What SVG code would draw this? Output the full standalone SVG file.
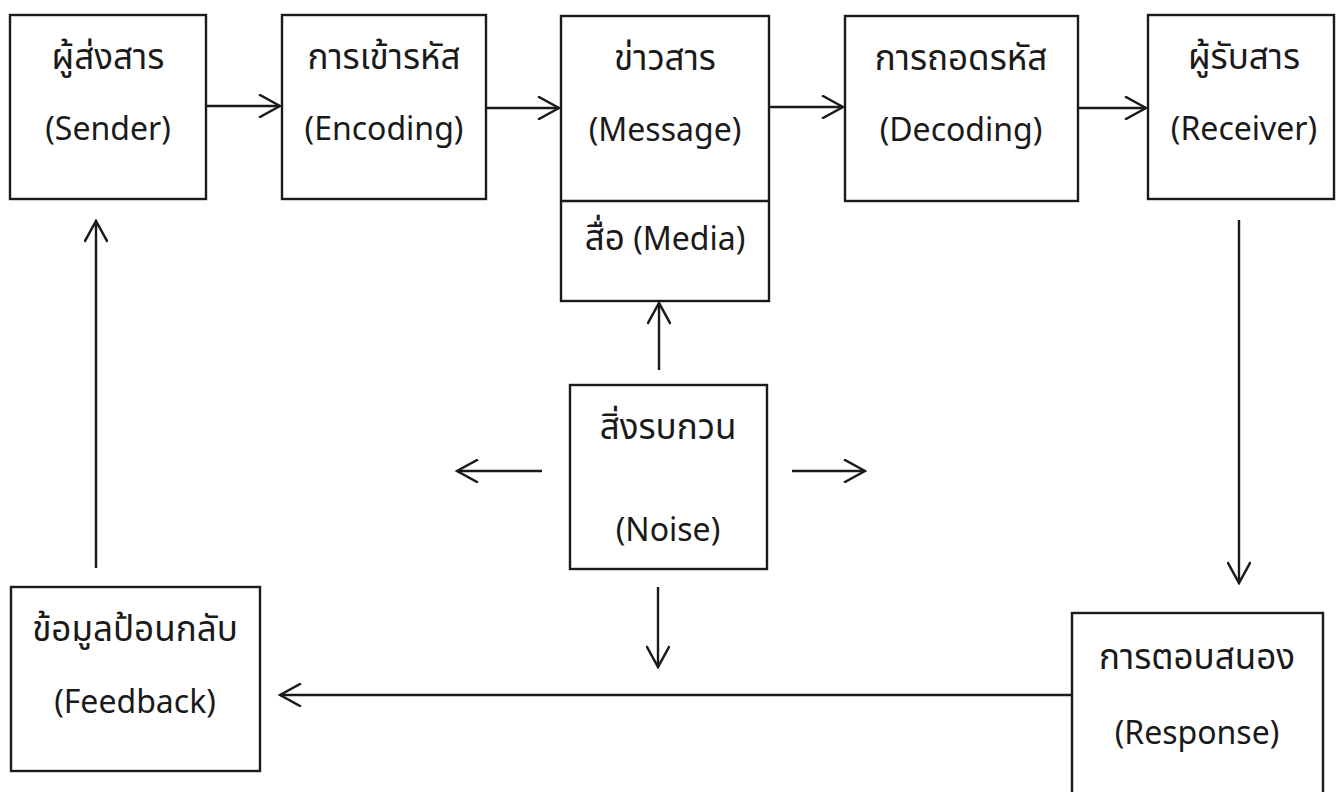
<svg xmlns="http://www.w3.org/2000/svg" width="1336" height="792" viewBox="0 0 1336 792">
<style>
.box{fill:#fff;stroke:#1a1a1a;stroke-width:2.4}
.t{font-family:"Noto Sans","Noto Sans Thai","DejaVu Sans",sans-serif;font-size:32px;fill:#1a1a1a;text-anchor:middle}
.th{font-size:35px}
.c{stroke:#1a1a1a;stroke-width:2.4;fill:none;marker-end:url(#ah)}
</style>
<defs>
<marker id="ah" viewBox="0 0 24 24" refX="22" refY="12" markerWidth="24" markerHeight="24" orient="auto" markerUnits="userSpaceOnUse">
<path d="M1,0.5 L22,12 L1,23.5" fill="none" stroke="#1a1a1a" stroke-width="2.5"/>
</marker>
</defs>
<rect width="1336" height="792" fill="#fff"/>
<g id="connectors">
<line class="c" x1="206" y1="106" x2="280" y2="106"/>
<line class="c" x1="486" y1="108" x2="559" y2="108"/>
<line class="c" x1="769" y1="107" x2="843" y2="107"/>
<line class="c" x1="1078" y1="108" x2="1146" y2="108"/>
<line class="c" x1="1239" y1="220" x2="1239" y2="583"/>
<line class="c" x1="1072" y1="695" x2="280" y2="695"/>
<line class="c" x1="96" y1="568" x2="96" y2="221"/>
<line class="c" x1="659" y1="370" x2="659" y2="303"/>
<line class="c" x1="542" y1="471" x2="457" y2="471"/>
<line class="c" x1="792" y1="471" x2="865" y2="471"/>
<line class="c" x1="658" y1="587" x2="658" y2="667"/>
</g>
<g id="sender">
<rect class="box" x="10" y="15" width="196" height="184"/>
<text class="t th" x="108" y="69">ผู้ส่งสาร</text>
<text class="t" x="108" y="140">(Sender)</text>
</g>
<g id="encoding">
<rect class="box" x="282" y="15" width="204" height="184"/>
<text class="t th" x="384" y="69">การเข้ารหัส</text>
<text class="t" x="384" y="140">(Encoding)</text>
</g>
<g id="message">
<rect class="box" x="561" y="16" width="208" height="285"/>
<line x1="561" y1="201" x2="769" y2="201" stroke="#1a1a1a" stroke-width="2.4"/>
<text class="t th" x="665" y="70">ข่าวสาร</text>
<text class="t" x="665" y="141">(Message)</text>
<text class="t" x="665" y="250"><tspan class="th">สื่อ</tspan> (Media)</text>
</g>
<g id="decoding">
<rect class="box" x="845" y="16" width="233" height="185"/>
<text class="t th" x="961" y="70">การถอดรหัส</text>
<text class="t" x="961" y="141">(Decoding)</text>
</g>
<g id="receiver">
<rect class="box" x="1148" y="15" width="186" height="184"/>
<text class="t th" x="1244" y="69">ผู้รับสาร</text>
<text class="t" x="1244" y="140">(Receiver)</text>
</g>
<g id="noise">
<rect class="box" x="570" y="385" width="197" height="184"/>
<text class="t th" x="668" y="439">สิ่งรบกวน</text>
<text class="t" x="668" y="541">(Noise)</text>
</g>
<g id="feedback">
<rect class="box" x="11" y="587" width="249" height="184"/>
<text class="t th" x="135" y="641">ข้อมูลป้อนกลับ</text>
<text class="t" x="135" y="713">(Feedback)</text>
</g>
<g id="response">
<rect class="box" x="1072" y="613" width="251" height="190"/>
<text class="t th" x="1197" y="669">การตอบสนอง</text>
<text class="t" x="1197" y="744">(Response)</text>
</g>
</svg>
